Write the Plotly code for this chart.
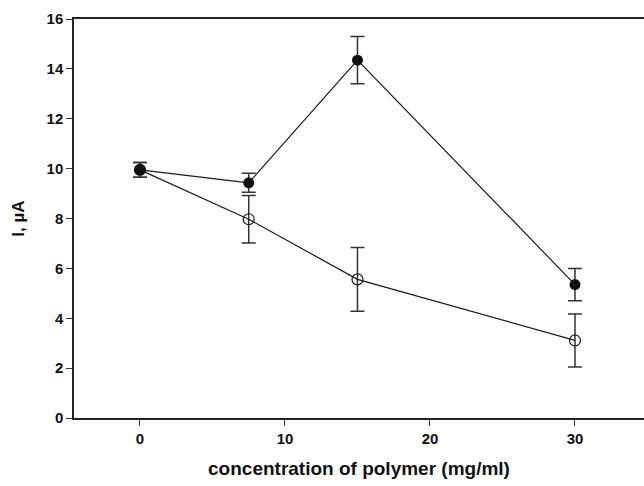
import plotly.graph_objects as go

conc = [0, 7.5, 15, 30]
filled_vals = [9.95, 9.43, 14.35, 5.35]
filled_err = [0.30, 0.38, 0.95, 0.65]
open_vals = [9.95, 7.97, 5.56, 3.11]
open_err = [0.30, 0.95, 1.28, 1.06]

x_ticks = [0, 10, 20, 30]
y_ticks = [0, 2, 4, 6, 8, 10, 12, 14, 16]

fig = go.Figure()
fig.add_trace(go.Scatter(
    x=conc, y=open_vals, mode="lines+markers",
    line=dict(color="#1a1a1a", width=1.2),
    marker=dict(symbol="circle-open", size=11, color="#1a1a1a", line=dict(width=1.2)),
    error_y=dict(type="data", array=open_err, visible=True, color="#333333", thickness=1.5, width=7),
    showlegend=False))
fig.add_trace(go.Scatter(
    x=conc, y=filled_vals, mode="lines+markers",
    line=dict(color="#1a1a1a", width=1.2),
    marker=dict(symbol="circle", size=11, color="#111111", line=dict(width=0)),
    error_y=dict(type="data", array=filled_err, visible=True, color="#333333", thickness=1.5, width=7),
    showlegend=False))

font_family = "Liberation Sans, Arial, sans-serif"
fig.update_layout(
    width=644, height=486,
    margin=dict(l=74, r=0, t=19, b=68),
    plot_bgcolor="white", paper_bgcolor="white",
    font=dict(family=font_family, color="#111111"),
    xaxis=dict(
        range=[-4.55, 34.76], tickvals=x_ticks, ticks="outside", ticklen=6,
        tickcolor="#333333", tickwidth=1.2,
        showline=True, linecolor="#222222", linewidth=1.5, mirror=True,
        showgrid=False, zeroline=False, automargin=False,
        tickfont=dict(size=15, family=font_family, weight="bold"),
        title=dict(text="<b>concentration of polymer (mg/ml)</b>", font=dict(size=19), standoff=16),
    ),
    yaxis=dict(
        range=[0, 16], tickvals=y_ticks, ticks="outside", ticklen=6,
        tickcolor="#333333", tickwidth=1.2,
        showline=True, linecolor="#222222", linewidth=1.5,
        showgrid=False, zeroline=False, automargin=False,
        tickfont=dict(size=15, family=font_family, weight="bold"),
        title=dict(text="<b>I, µA</b>", font=dict(size=17), standoff=18),
    ),
)

fig.write_html("out.html", config={"displayModeBar": False},
               post_script="document.body.style.margin='0';")
